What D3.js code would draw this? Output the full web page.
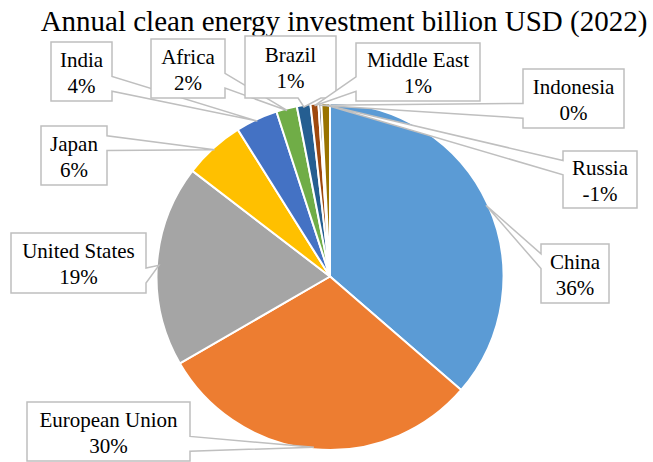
<!DOCTYPE html>
<html>
<head>
<meta charset="utf-8">
<script src="https://cdn.jsdelivr.net/npm/d3@7"></script>
<style>
  html, body { margin: 0; padding: 0; background: #fff; }
</style>
</head>
<body>
<div id="pie"></div>
<script>
// --- Data (billion USD, 2022) ---
const regions = ["China", "European Union", "United States", "Japan", "India",
                 "Africa", "Brazil", "Middle East", "Indonesia", "Russia"];
const investment = [546, 455, 282, 85, 59, 29, 19, 11, 4, -12];
const sliceColors = ["#5B9BD5", "#ED7D31", "#A5A5A5", "#FFC000", "#4472C4",
                     "#70AD47", "#255E91", "#9E480E", "#636363", "#997300"];

// --- Callout box layout (x, y, w, h) ---
const boxes = {
  "China":          [541, 244, 68, 59],
  "European Union": [27, 402, 163, 59],
  "United States":  [11, 233, 135, 60],
  "Japan":          [41, 126, 66, 59],
  "India":          [51, 42, 61, 59],
  "Africa":         [151, 39, 74, 59],
  "Brazil":         [245, 36, 91, 62],
  "Middle East":    [356, 43, 124, 58],
  "Indonesia":      [523, 69, 101, 59],
  "Russia":         [563, 151, 74, 57]
};

const FONT = "'Liberation Serif', Tinos, 'Times New Roman', 'DejaVu Serif', serif";
const width = 653, height = 462;
const cx = 330, cy = 276.5, radius = 173.5;

const data = regions.map((r, i) => ({ region: r, value: investment[i] }));
const total = d3.sum(data, d => Math.abs(d.value));

const svg = d3.select("#pie").append("svg")
  .attr("width", width).attr("height", height);

// --- Title ---
svg.append("text")
  .attr("x", 344).attr("y", 31)
  .attr("text-anchor", "middle")
  .attr("font-family", FONT)
  .attr("font-size", 29)
  .attr("fill", "#000")
  .text("Annual clean energy investment billion USD (2022)");

const color = d3.scaleOrdinal().domain(regions).range(sliceColors);

const pie = d3.pie().sort(null).value(d => Math.abs(d.value));
const arcs = pie(data);
const arc = d3.arc().innerRadius(0).outerRadius(radius);

const g = svg.append("g").attr("transform", `translate(${cx},${cy})`);

g.selectAll("path")
  .data(arcs)
  .enter()
  .append("path")
  .attr("d", arc)
  .attr("fill", d => color(d.data.region))
  .attr("stroke", "#fff")
  .attr("stroke-width", 2);

// wedge callout outline, Excel-style (base at 2/12-5/12 or 7/12-10/12 of the side)
function calloutPath(b, tip) {
  const [x, y, w, h] = b;
  const dx = tip[0] - (x + w / 2), dy = tip[1] - (y + h / 2);
  const horiz = Math.abs(dx) / w > Math.abs(dy) / h;
  const x1 = w * (dx > 0 ? 7 : 2) / 12, x2 = w * (dx > 0 ? 10 : 5) / 12;
  const y1 = h * (dy > 0 ? 7 : 2) / 12, y2 = h * (dy > 0 ? 10 : 5) / 12;
  const p = [[x, y]];
  if (!horiz && dy < 0) p.push([x + x1, y], tip, [x + x2, y]);
  p.push([x + w, y]);
  if (horiz && dx > 0) p.push([x + w, y + y1], tip, [x + w, y + y2]);
  p.push([x + w, y + h]);
  if (!horiz && dy >= 0) p.push([x + x2, y + h], tip, [x + x1, y + h]);
  p.push([x, y + h]);
  if (horiz && dx <= 0) p.push([x, y + y2], tip, [x, y + y1]);
  return "M" + p.map(q => q.join(",")).join("L") + "Z";
}

// --- Labels ---
const labels = svg.append("g");

arcs.forEach(d => {
  const b = boxes[d.data.region];
  const mid = (d.startAngle + d.endAngle) / 2;
  const tip = [cx + (radius - 2) * Math.sin(mid), cy - (radius - 2) * Math.cos(mid)];
  const pct = Math.round(d.data.value / total * 100);

  labels.append("path")
    .attr("d", calloutPath(b, tip))
    .attr("fill", "#fff")
    .attr("stroke", "#BFBFBF")
    .attr("stroke-width", 1.5);

  const t = labels.append("text")
    .attr("text-anchor", "middle")
    .attr("font-family", FONT)
    .attr("font-size", 21)
    .attr("fill", "#000");
  const mx = b[0] + b[2] / 2, my = b[1] + b[3] / 2;
  t.append("tspan").attr("x", mx).attr("y", my - 5).text(d.data.region);
  t.append("tspan").attr("x", mx).attr("y", my + 21).text(pct + "%");
});
</script>
</body>
</html>
